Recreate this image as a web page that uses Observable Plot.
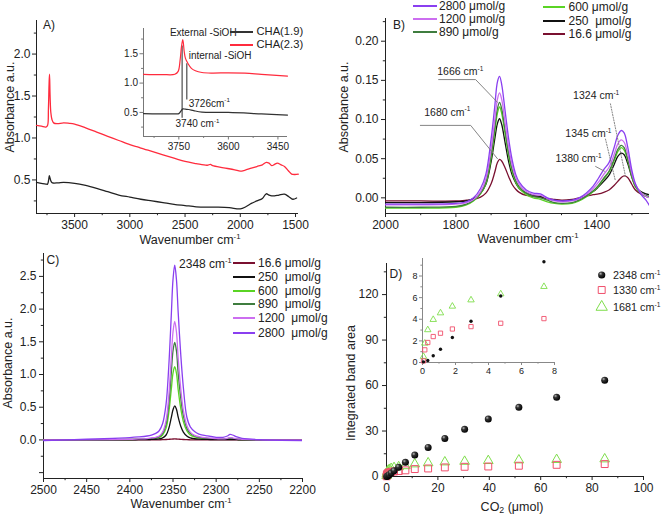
<!DOCTYPE html>
<html>
<head>
<meta charset="utf-8">
<script src="https://cdn.jsdelivr.net/npm/d3@7"></script>
<script src="https://cdn.jsdelivr.net/npm/@observablehq/plot@0.6"></script>
<style>
  body { margin: 0; background: #fff; }
  #fig { position: relative; width: 661px; height: 516px; overflow: hidden; background: #fff;
         font-family: "Liberation Sans", Arial, Helvetica, sans-serif; color: #222; }
  #fig svg { position: absolute; overflow: visible; }
  .t { position: absolute; white-space: pre; line-height: 1; }
  .t sup { font-size: 0.62em; position: relative; top: -0.6em; vertical-align: baseline; }
  .t sub { font-size: 0.7em; position: relative; top: 0.3em; vertical-align: baseline; }
  .sw { position: absolute; }
</style>
</head>
<body>
<div id="fig"></div>
<script>
// ---------------- DATA ----------------
// Panel A (main): FTIR of CHA(1.9) and CHA(2.3)
const aRedWn  = [3845,3800,3760,3745,3737,3731,3727,3722,3715,3705,3690,3660,3600,3550,3500,3400,3300,3200,3100,3000,2950,2930,2900,2800,2700,2600,2500,2400,2300,2270,2250,2150,2050,2000,1960,1900,1850,1800,1765,1740,1715,1690,1665,1630,1600,1565,1535,1505,1475];
const aRedVal = [1.15,1.14,1.13,1.15,1.35,1.65,1.76,1.5,1.3,1.22,1.18,1.17,1.18,1.175,1.165,1.12,1.07,1.02,0.97,0.92,0.90,0.895,0.88,0.84,0.80,0.76,0.72,0.695,0.675,0.685,0.67,0.645,0.62,0.605,0.615,0.64,0.66,0.68,0.71,0.70,0.67,0.685,0.70,0.68,0.66,0.61,0.57,0.565,0.57];
const aBlackWn  = [3845,3760,3745,3735,3729,3722,3712,3700,3650,3600,3500,3400,3300,3200,3100,3000,2900,2800,2700,2600,2500,2400,2300,2200,2100,2000,1950,1900,1850,1800,1765,1740,1715,1690,1650,1600,1560,1525,1490];
const aBlackVal = [0.47,0.45,0.45,0.5,0.55,0.52,0.48,0.465,0.465,0.47,0.46,0.435,0.40,0.36,0.32,0.295,0.27,0.25,0.23,0.21,0.195,0.18,0.175,0.175,0.17,0.155,0.18,0.22,0.25,0.28,0.335,0.32,0.31,0.31,0.32,0.33,0.30,0.27,0.285];
const aXTicks = [3500,3000,2500,2000,1500];
const aXMinor = [3750,3250,2750,2250,1750];
const aYTicks = [0.5,1.0,1.5,2.0];
const aYMinor = [0.25,0.75,1.25,1.75,2.25];

// Panel A inset
const iRedWn  = [3857,3800,3762,3752,3746,3742,3738,3734,3730,3722,3712,3700,3680,3650,3600,3550,3500,3421];
const iRedVal = [1.15,1.145,1.15,1.2,1.4,1.62,1.74,1.55,1.42,1.33,1.25,1.21,1.18,1.17,1.175,1.17,1.15,1.12];
const iBlackWn  = [3857,3760,3750,3744,3738,3730,3720,3705,3680,3600,3500,3421];
const iBlackVal = [0.48,0.475,0.48,0.52,0.56,0.555,0.55,0.53,0.505,0.5,0.475,0.455];
const iMarkWn = [3740,3726];
const iMarkLo = [0.40,0.71];
const iMarkHi = [1.63,1.33];
const iLabels = ["External -SiOH","internal -SiOH","3726cm^{-1}","3740 cm^{-1}"];
const iLabelWn = [3777,3720,3720,3760];
const iLabelVal = [1.85,1.46,0.655,0.31];
const iXTicks = [3750,3600,3450];
const iXMinor = [3825,3675,3525];
const iYTicks = [0.5,1.0,1.5];
const iYMinor = [0.25,0.75,1.25,1.75];
const aLegend = ["CHA(1.9)","CHA(2.3)"];

// Panel B: 2000-1250 cm-1
const bWn = [2000,1900,1800,1770,1750,1730,1715,1700,1690,1682,1676,1670,1660,1650,1640,1630,1620,1600,1580,1560,1540,1520,1500,1470,1450,1430,1410,1395,1380,1365,1350,1340,1330,1322,1312,1300,1290,1275,1260,1250];
const b2800 = [-0.008,-0.008,-0.007,-0.005,0.0,0.012,0.03,0.075,0.115,0.148,0.155,0.145,0.11,0.075,0.048,0.03,0.02,0.01,0.006,0.005,0.0,-0.003,-0.004,-0.003,0.0,0.006,0.015,0.025,0.036,0.045,0.065,0.08,0.086,0.083,0.065,0.035,0.018,0.005,-0.003,-0.01];
const b1200 = [-0.009,-0.009,-0.008,-0.006,-0.002,0.008,0.024,0.062,0.098,0.126,0.134,0.126,0.095,0.064,0.041,0.026,0.017,0.008,0.004,0.003,-0.001,-0.004,-0.005,-0.004,-0.001,0.004,0.012,0.02,0.03,0.039,0.056,0.069,0.074,0.071,0.056,0.031,0.017,0.007,0.002,0.0];
const b890  = [-0.012,-0.012,-0.011,-0.008,-0.003,0.006,0.02,0.055,0.088,0.114,0.122,0.114,0.086,0.057,0.036,0.022,0.014,0.006,0.002,0.0,-0.003,-0.006,-0.007,-0.006,-0.003,0.002,0.009,0.016,0.025,0.034,0.05,0.062,0.067,0.064,0.05,0.028,0.015,0.007,0.003,0.002];
const b600  = [-0.013,-0.013,-0.012,-0.009,-0.004,0.005,0.018,0.051,0.083,0.108,0.116,0.108,0.081,0.053,0.033,0.02,0.012,0.004,0.0,-0.002,-0.005,-0.007,-0.008,-0.007,-0.004,0.001,0.008,0.015,0.024,0.033,0.048,0.059,0.064,0.061,0.048,0.027,0.014,0.006,0.002,0.001];
const b250  = [-0.006,-0.006,-0.005,-0.004,-0.001,0.006,0.017,0.046,0.074,0.095,0.101,0.094,0.07,0.046,0.029,0.019,0.012,0.006,0.003,0.002,-0.001,-0.003,-0.004,-0.003,-0.001,0.003,0.008,0.014,0.021,0.029,0.043,0.053,0.057,0.055,0.044,0.026,0.015,0.008,0.005,0.004];
const b16   = [-0.004,-0.004,-0.004,-0.003,-0.002,0.001,0.006,0.018,0.032,0.045,0.049,0.047,0.038,0.027,0.017,0.011,0.007,0.003,0.002,0.001,-0.001,-0.002,-0.003,-0.002,0.0,0.002,0.004,0.005,0.007,0.01,0.016,0.021,0.026,0.028,0.026,0.017,0.01,0.005,0.002,0.001];
const bXTicks = [2000,1800,1600,1400];
const bXMinor = [1900,1700,1500,1300];
const bYTicks = [0.00,0.05,0.10,0.15,0.20];
const bYMinor = [0.025,0.075,0.125,0.175,0.225];
const bLabels = ["1666 cm^{-1}","1680 cm^{-1}","1324 cm^{-1}","1345 cm^{-1}","1380 cm^{-1}"];
const bLabelWn = [1853,1890,1467,1489,1517];
const bLabelVal = [0.161,0.109,0.130,0.082,0.050];
const bLeadId  = ["1666","1666","1666","1680","1680","1680"];
const bLeadWn  = [1849,1744,1682,1901,1758,1682];
const bLeadVal = [0.151,0.151,0.122,0.0925,0.0925,0.050];
const bDotId  = ["1324","1324","1345","1345"];
const bDotWn  = [1361,1318,1375,1347];
const bDotVal = [0.120,0.027,0.075,0.022];
const bShortWn  = [1403,1378];
const bShortVal = [0.040,0.034];

// Panel C: 2500-2200 cm-1
const cWn = [2500,2450,2420,2400,2390,2380,2375,2370,2366,2362,2358,2355,2352,2350,2348,2346,2344,2341,2338,2334,2330,2325,2320,2310,2300,2292,2287,2284,2281,2276,2270,2250,2200];
const c2800 = [-0.01,0.01,0.025,0.035,0.045,0.06,0.075,0.1,0.14,0.25,0.55,1.1,1.9,2.45,2.67,2.45,1.95,1.3,0.8,0.35,0.2,0.13,0.09,0.06,0.04,0.04,0.06,0.085,0.075,0.045,0.025,0.005,-0.01];
const c1200 = [0,0,0.005,0.01,0.015,0.02,0.03,0.04,0.06,0.12,0.3,0.65,1.25,1.65,1.81,1.65,1.25,0.78,0.45,0.22,0.12,0.07,0.05,0.03,0.02,0.015,0.025,0.035,0.03,0.015,0.01,0,0];
const c890  = [0,0,0.004,0.008,0.012,0.016,0.024,0.032,0.05,0.1,0.24,0.53,1.02,1.36,1.49,1.36,1.02,0.64,0.37,0.18,0.1,0.06,0.04,0.025,0.015,0.012,0.02,0.028,0.024,0.012,0.008,0,0];
const c600  = [0,0,0.003,0.006,0.009,0.012,0.018,0.025,0.038,0.075,0.18,0.4,0.77,1.02,1.12,1.02,0.77,0.48,0.28,0.14,0.075,0.045,0.03,0.018,0.012,0.01,0.015,0.02,0.018,0.01,0.006,0,0];
const c250  = [0,0,0,0.002,0.003,0.005,0.007,0.01,0.016,0.03,0.075,0.17,0.34,0.46,0.52,0.47,0.35,0.21,0.12,0.06,0.03,0.018,0.012,0.007,0.004,0.003,0.004,0.005,0.005,0.003,0.002,0,0];
const c16   = [0,0,0,0,0,0,0,0.001,0.002,0.003,0.006,0.009,0.012,0.014,0.015,0.014,0.012,0.009,0.006,0.003,0.002,0.001,0,0,0,0,0,0,0,0,0,0,0];
const cXTicks = [2500,2450,2400,2350,2300,2250,2200];
const cXMinor = [2475,2425,2375,2325,2275,2225];
const cYTicks = [0.0,0.5,1.0,1.5,2.0,2.5];
const cYExtra = [-0.5];
const cYMinor = [-0.25,0.25,0.75,1.25,1.75,2.25,2.75];
const cLabel = ["2348 cm^{-1}"];
const cLabelWn = [2343];
const cLabelVal = [2.68];

// Series names (loadings)
const loadings = ["16.6","250","600","890","1200","2800"];

// Panel D: integrated band areas vs CO2 dosed
const dCO2  = [0.06,0.14,0.32,0.65,1.09,1.81,2.94,4.74,7.36,11.0,16.2,22.7,30.4,39.6,51.5,66.2,84.9];
const d2348 = [0.06,null,0.18,0.62,1.23,2.31,3.82,6.15,9.32,14.1,19.2,25.1,31.1,37.9,45.6,52.3,63.5];
const d1330 = [0.15,1.17,1.85,2.4,2.71,3.1,3.32,3.63,4.06,4.9,5.3,6.0,6.4,6.6,7.1,7.7,8.2];
const d1681 = [0.55,1.78,3.02,3.97,4.58,5.2,5.78,6.34,7.02,8.2,8.9,9.5,9.9,10.4,10.8,11.1,11.5];
const dXTicks = [0,20,40,60,80,100];
const dXMinor = [10,30,50,70,90];
const dYTicks = [0,30,60,90,120];
const dYMinor = [15,45,75,105,135];
const dInXTicks = [0,2,4,6,8];
const dInXMinor = [1,3,5,7];
const dInYTicks = [0,2,4,6,8];
const dInYMinor = [1,3,5,7,9];
const dLegend = ["2348","1330","1681"];

// ---------------- HELPERS ----------------
const fig = document.getElementById("fig");
const FONT = '"Liberation Sans", Arial, Helvetica, sans-serif';
const pts = (xs, ys) => xs.map((x, i) => ({x, y: ys[i]}));
const colors = {"16.6": "#7a1030", "250": "#111111", "600": "#5ad424", "890": "#3f7d3f", "1200": "#cc6ef0", "2800": "#8a3ff0"};

function axisMarks(c) {
  const col = c.axisColor || "#222";
  const fs = c.fs || 12;
  const ts = c.ts || 4;
  const marks = [
    Plot.ruleX([c.x[0]], {stroke: col, strokeWidth: 1}),
    Plot.ruleY([c.y[0]], {stroke: col, strokeWidth: 1}),
    Plot.axisX({ticks: c.xMajor, tickSize: ts, tickPadding: c.padX ?? 3, tickFormat: c.xFmt, label: null, fontSize: fs, stroke: col, fill: "#222"}),
    Plot.axisX({ticks: c.xMinor, tickSize: ts * 0.55, tickFormat: () => "", label: null, stroke: col}),
    Plot.axisY({ticks: c.yMajor, tickSize: ts, tickPadding: c.padY ?? 3, tickFormat: c.yFmt, label: null, fontSize: fs, stroke: col, fill: "#222"}),
    Plot.axisY({ticks: c.yMinor, tickSize: ts * 0.55, tickFormat: () => "", label: null, stroke: col})
  ];
  if (c.yExtra) marks.push(Plot.axisY({ticks: c.yExtra, tickSize: ts, tickFormat: () => "", label: null, stroke: col}));
  return marks;
}

function richText(root) {
  root.querySelectorAll("text").forEach(t => {
    const s = t.textContent;
    if (!/[\^_]\{/.test(s)) return;
    const fs = parseFloat(getComputedStyle(t).fontSize) || 11;
    const parts = s.split(/([\^_]\{[^}]*\})/).filter(p => p);
    t.textContent = "";
    let cur = 0;
    parts.forEach(p => {
      const ts = document.createElementNS("http://www.w3.org/2000/svg", "tspan");
      let target = 0, txt = p;
      if (p[0] === "^") { target = -0.42 * fs; txt = p.slice(2, -1); ts.setAttribute("font-size", (0.62 * fs) + "px"); }
      else if (p[0] === "_") { target = 0.3 * fs; txt = p.slice(2, -1); ts.setAttribute("font-size", (0.7 * fs) + "px"); }
      ts.setAttribute("dy", (target - cur).toFixed(2));
      cur = target;
      ts.textContent = txt;
      t.appendChild(ts);
    });
  });
}

function place(svg, left, top) {
  svg.style.left = left + "px";
  svg.style.top = top + "px";
  fig.appendChild(svg);
  richText(svg);
  return svg;
}

function addText(html, x, y, {anchor = "start", size = 12, rotate = 0, color = "#222"} = {}) {
  const d = document.createElement("div");
  d.className = "t";
  d.innerHTML = html;
  d.style.left = x + "px";
  d.style.top = y + "px";
  d.style.fontSize = size + "px";
  d.style.color = color;
  const tx = anchor === "middle" ? "-50%" : anchor === "end" ? "-100%" : "0";
  d.style.transform = `translate(${tx},-50%)` + (rotate ? ` rotate(${rotate}deg)` : "");
  fig.appendChild(d);
}

function addSwatch(x1, x2, y, color, w = 2) {
  const d = document.createElement("div");
  d.className = "sw";
  d.style.left = x1 + "px";
  d.style.top = (y - w / 2) + "px";
  d.style.width = (x2 - x1) + "px";
  d.style.height = w + "px";
  d.style.background = color;
  fig.appendChild(d);
}

const baseStyle = {fontFamily: FONT, fontSize: "12px", color: "#222", background: "transparent", overflow: "visible"};
const cmLabel = "Wavenumber cm<sup>-1</sup>";

// ---------------- PANEL A ----------------
const aX = [3845, 1473], aY = [0.1, 2.4];
place(Plot.plot({
  width: 330, height: 250, marginLeft: 36, marginRight: 32, marginTop: 20, marginBottom: 37,
  x: {domain: aX}, y: {domain: aY}, style: baseStyle,
  marks: [
    ...axisMarks({x: aX, y: aY, xMajor: aXTicks, xMinor: aXMinor, yMajor: aYTicks, yMinor: aYMinor,
                  xFmt: d3.format("d"), yFmt: d3.format(".1f"), padY: 2}),
    Plot.line(pts(aBlackWn, aBlackVal), {x: "x", y: "y", stroke: "#222", strokeWidth: 1.3, curve: "catmull-rom"}),
    Plot.line(pts(aRedWn, aRedVal), {x: "x", y: "y", stroke: "#ff2b3d", strokeWidth: 1.3, curve: "catmull-rom"})
  ]
}), 0, 0);

// Inset A
const iX = [3857, 3421], iY = [0.09, 1.93];
place(Plot.plot({
  width: 185, height: 140, marginLeft: 33, marginRight: 8, marginTop: 8, marginBottom: 24,
  x: {domain: iX}, y: {domain: iY}, style: {...baseStyle, fontSize: "10px"},
  marks: [
    ...axisMarks({x: iX, y: iY, xMajor: iXTicks, xMinor: iXMinor, yMajor: iYTicks, yMinor: iYMinor,
                  xFmt: d3.format("d"), yFmt: d3.format(".1f"), fs: 10, ts: 3.5, axisColor: "#777", padY: 2}),
    Plot.ruleX(iMarkWn.map((w, i) => ({w, lo: iMarkLo[i], hi: iMarkHi[i]})), {x: "w", y1: "lo", y2: "hi", stroke: "#666", strokeWidth: 1.4}),
    Plot.line(pts(iBlackWn, iBlackVal), {x: "x", y: "y", stroke: "#333", strokeWidth: 1.2, curve: "catmull-rom"}),
    Plot.line(pts(iRedWn, iRedVal), {x: "x", y: "y", stroke: "#ff2b3d", strokeWidth: 1.2, curve: "catmull-rom"}),
    Plot.text(iLabels.map((t, i) => ({t, w: iLabelWn[i], v: iLabelVal[i]})), {x: "w", y: "v", text: "t", textAnchor: "start", fontSize: 10, fill: "#222"})
  ]
}), 110, 20);

// Legend A
addSwatch(230, 253, 31.9, "#333", 2);
addSwatch(230, 253, 44.8, "#ff2b3d", 2);
addText(aLegend[0], 256.5, 31.9, {size: 11.2});
addText(aLegend[1], 256.5, 44.8, {size: 11.2});
addText("A)", 43, 25, {size: 12});
addText(cmLabel, 190, 240, {anchor: "middle", size: 12.5});
addText("Absorbance a.u.", 10, 107, {anchor: "middle", size: 12.5, rotate: -90});

// ---------------- PANEL B ----------------
const bX = [2000, 1250], bY = [-0.020, 0.229];
const bSeries = {"2800": b2800, "1200": b1200, "890": b890, "600": b600, "250": b250, "16.6": b16};
const bOrder = ["16.6", "250", "600", "890", "1200", "2800"];
place(Plot.plot({
  width: 331, height: 250, marginLeft: 55, marginRight: 12, marginTop: 18, marginBottom: 37,
  x: {domain: bX}, y: {domain: bY}, style: baseStyle,
  marks: [
    ...axisMarks({x: bX, y: bY, xMajor: bXTicks, xMinor: bXMinor, yMajor: bYTicks, yMinor: bYMinor,
                  xFmt: d3.format("d"), yFmt: d3.format(".2f"), padY: 3}),
    ...bOrder.map(k => Plot.line(pts(bWn, bSeries[k]), {x: "x", y: "y", stroke: colors[k], strokeWidth: 1.3, curve: "catmull-rom", clip: true})),
    Plot.line(bLeadWn.map((w, i) => ({w, v: bLeadVal[i], id: bLeadId[i]})), {x: "w", y: "v", z: "id", stroke: "#777", strokeWidth: 0.9}),
    Plot.line(bDotWn.map((w, i) => ({w, v: bDotVal[i], id: bDotId[i]})), {x: "w", y: "v", z: "id", stroke: "#777", strokeWidth: 0.9, strokeDasharray: "1.2,1.5"}),
    Plot.line(pts(bShortWn, bShortVal), {x: "x", y: "y", stroke: "#777", strokeWidth: 0.9}),
    Plot.text(bLabels.map((t, i) => ({t, w: bLabelWn[i], v: bLabelVal[i]})), {x: "w", y: "v", text: "t", textAnchor: "start", fontSize: 10.5, fill: "#222"})
  ]
}), 330, 0);

// Legend B
const bLegL = ["2800", "1200", "890"], bLegR = ["600", "250", "16.6"];
const bLegLText = ["2800 μmol/g", "1200 μmol/g", "890 μmol/g"];
const bLegRText = ["600 μmol/g", "250  μmol/g", "16.6 μmol/g"];
[6.3, 19.2, 32.1].forEach((y, i) => { addSwatch(413, 437, y, colors[bLegL[i]], 2); addText(bLegLText[i], 439, y, {size: 12}); });
[7.3, 20.7, 33.7].forEach((y, i) => { addSwatch(543, 565, y, colors[bLegR[i]], 2); addText(bLegRText[i], 568.5, y, {size: 12}); });
addText("B)", 393, 25, {size: 12});
addText(cmLabel, 528, 238.5, {anchor: "middle", size: 12.5});
addText("Absorbance a.u.", 344, 107, {anchor: "middle", size: 12.5, rotate: -90});

// ---------------- PANEL C ----------------
const cX = [2500, 2200], cY = [-0.59, 2.85];
const cSeries = {"2800": c2800, "1200": c1200, "890": c890, "600": c600, "250": c250, "16.6": c16};
place(Plot.plot({
  width: 330, height: 266, marginLeft: 43, marginRight: 28, marginTop: 3, marginBottom: 38,
  x: {domain: cX}, y: {domain: cY}, style: baseStyle,
  marks: [
    ...axisMarks({x: cX, y: cY, xMajor: cXTicks, xMinor: cXMinor, yMajor: cYTicks, yMinor: cYMinor, yExtra: cYExtra,
                  xFmt: d3.format("d"), yFmt: d3.format(".1f"), padY: 3}),
    ...["16.6", "600", "890", "250", "1200", "2800"].map(k => Plot.line(pts(cWn, cSeries[k]), {x: "x", y: "y", stroke: colors[k], strokeWidth: 1.3, curve: "catmull-rom", clip: true})),
    Plot.text(cLabel.map((t, i) => ({t, w: cLabelWn[i], v: cLabelVal[i]})), {x: "w", y: "v", text: "t", textAnchor: "start", fontSize: 12, fill: "#222"})
  ]
}), 0, 250);

// Legend C
const cLegText = ["16.6 μmol/g", "250  μmol/g", "600  μmol/g", "890  μmol/g", "1200  μmol/g", "2800  μmol/g"];
[262.7, 276.9, 290.9, 304.4, 318.4, 332.6].forEach((y, i) => {
  addSwatch(233, 255, y, colors[loadings[i]], 2);
  addText(cLegText[i], 258, y, {size: 12});
});
addText("C)", 46.5, 260, {size: 12});
addText(cmLabel, 181, 503.5, {anchor: "middle", size: 12.5});
addText("Absorbance a.u.", 8, 363, {anchor: "middle", size: 12.5, rotate: -90});

// ---------------- PANEL D ----------------
const dX = [0, 100], dY = [0, 140.5];
const svgD = place(Plot.plot({
  width: 331, height: 266, marginLeft: 56, marginRight: 18, marginTop: 13, marginBottom: 40,
  x: {domain: dX}, y: {domain: dY}, style: baseStyle,
  marks: [
    ...axisMarks({x: dX, y: dY, xMajor: dXTicks, xMinor: dXMinor, yMajor: dYTicks, yMinor: dYMinor,
                  xFmt: d3.format("d"), yFmt: d3.format("d"), padY: 4}),
    Plot.dot(pts(dCO2, d1681), {x: "x", y: "y", symbol: "triangle", r: 3.6, stroke: "#7fde4c", strokeWidth: 1, fill: "none"}),
    Plot.dot(pts(dCO2, d1330), {x: "x", y: "y", symbol: "square", r: 3.9, stroke: "#f0506c", strokeWidth: 1, fill: "none"}),
    Plot.dot(pts(dCO2, d2348).filter(d => d.y != null), {x: "x", y: "y", r: 3.5, fill: "#111", stroke: "none"})
  ]
}), 330, 250);

// sphere shading for the filled markers
const defs = d3.select(svgD).insert("defs", ":first-child");
const g = defs.append("radialGradient").attr("id", "ballG").attr("cx", "35%").attr("cy", "32%").attr("r", "70%");
g.append("stop").attr("offset", "0%").attr("stop-color", "#bbb");
g.append("stop").attr("offset", "35%").attr("stop-color", "#333");
g.append("stop").attr("offset", "100%").attr("stop-color", "#000");
d3.select(svgD).selectAll("circle").attr("fill", "url(#ballG)");

// Inset D
const dIX = [0, 8], dIY = [0, 9.62];
place(Plot.plot({
  width: 165, height: 125, marginLeft: 22, marginRight: 11, marginTop: 6, marginBottom: 15,
  x: {domain: dIX}, y: {domain: dIY}, style: {...baseStyle, fontSize: "9px"},
  marks: [
    ...axisMarks({x: dIX, y: dIY, xMajor: dInXTicks, xMinor: dInXMinor, yMajor: dInYTicks, yMinor: dInYMinor,
                  xFmt: d3.format("d"), yFmt: d3.format("d"), fs: 9, ts: 3, axisColor: "#888", padY: 2, padX: 2}),
    Plot.dot(pts(dCO2, d1681).filter(d => d.x <= 8), {x: "x", y: "y", symbol: "triangle", r: 2.4, stroke: "#7fde4c", strokeWidth: 0.9, fill: "none"}),
    Plot.dot(pts(dCO2, d1330).filter(d => d.x <= 8), {x: "x", y: "y", symbol: "square", r: 2.4, stroke: "#f0506c", strokeWidth: 0.9, fill: "none"}),
    Plot.dot(pts(dCO2, d2348).filter(d => d.x <= 8 && d.y != null), {x: "x", y: "y", r: 1.7, fill: "#111"})
  ]
}), 400, 252);

// Legend D
const legD = d3.select(fig).append("svg").attr("width", 20).attr("height", 50)
  .style("left", "592px").style("top", "265px");
legD.append("circle").attr("cx", 9.7).attr("cy", 10).attr("r", 3.6).attr("fill", "url(#ballG)");
legD.append("path").attr("d", d3.symbol(d3.symbolSquare, 3.9 * 3.9 * Math.PI)()).attr("transform", "translate(9.7,25)")
  .attr("fill", "none").attr("stroke", "#f0506c");
legD.append("path").attr("d", d3.symbol(d3.symbolTriangle, 4.2 * 4.2 * Math.PI)()).attr("transform", "translate(9.7,42)")
  .attr("fill", "none").attr("stroke", "#7fde4c");
[275, 290, 307].forEach((y, i) => addText(dLegend[i] + " cm<sup>-1</sup>", 613, y, {size: 10.8}));
addText("D)", 389.5, 273.5, {size: 12});
addText("CO<sub>2</sub> (μmol)", 512, 506.5, {anchor: "middle", size: 12.5});
addText("Integrated band area", 351, 383, {anchor: "middle", size: 12.5, rotate: -90});
</script>
</body>
</html>
